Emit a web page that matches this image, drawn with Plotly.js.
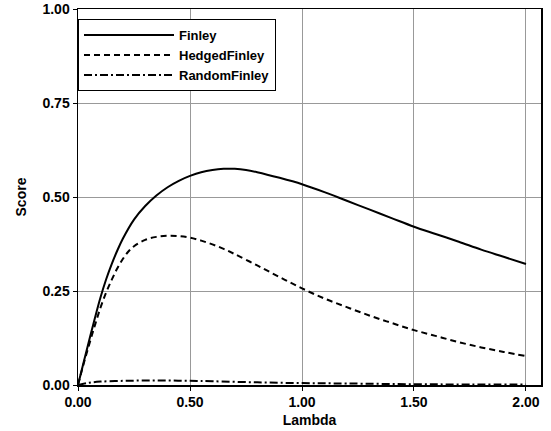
<!DOCTYPE html>
<html><head><meta charset="utf-8">
<script src="https://cdn.plot.ly/plotly-3.0.1.min.js"></script>
<style>body{margin:0;padding:0;background:#fff}</style>
</head><body>
<div id="chart" style="width:551px;height:431px"></div>
<script>
const lambdaF = [0,0.025,0.05,0.075,0.1,0.125,0.15,0.175,0.2,0.25,0.3,0.35,0.4,0.45,0.5,0.55,0.6,0.65,0.7,0.75,0.8,0.9,1.0,1.1,1.2,1.3,1.4,1.5,1.6,1.7,1.8,1.9,2.0];
const finley = [0,0.06,0.119,0.177,0.232,0.28,0.321,0.357,0.389,0.44,0.476,0.504,0.526,0.543,0.556,0.566,0.572,0.575,0.575,0.572,0.566,0.551,0.534,0.513,0.49,0.467,0.444,0.421,0.401,0.381,0.36,0.341,0.322];
const lambdaH = [0,0.025,0.05,0.075,0.1,0.125,0.15,0.175,0.2,0.225,0.25,0.3,0.35,0.4,0.45,0.5,0.55,0.6,0.65,0.7,0.8,0.9,1.0,1.1,1.2,1.3,1.4,1.5,1.6,1.7,1.8,1.9,2.0];
const hedged = [0,0.056,0.108,0.158,0.205,0.245,0.279,0.31,0.335,0.355,0.369,0.386,0.394,0.397,0.396,0.392,0.384,0.374,0.362,0.348,0.318,0.287,0.257,0.23,0.207,0.185,0.165,0.146,0.13,0.114,0.1,0.088,0.077];
const lambdaR = [0,0.05,0.1,0.2,0.3,0.4,0.5,0.6,0.8,1.0,1.2,1.5,1.75,2.0];
const random = [0,0.006,0.009,0.011,0.012,0.012,0.011,0.010,0.007,0.005,0.004,0.002,0.0015,0.001];
const seriesNames = ["Finley","HedgedFinley","RandomFinley"];
const xTicks = [0,0.5,1,1.5,2];
const xTickText = ["0.00","0.50","1.00","1.50","2.00"];
const yTicks = [0,0.25,0.5,0.75,1];
const yTickText = ["0.00","0.25","0.50","0.75","1.00"];

const font = "Liberation Sans, Arial, Helvetica, sans-serif";
const traces = [
  {x: lambdaF, y: finley, name: seriesNames[0], mode: "lines", line: {color: "#000", width: 2, shape: "spline", smoothing: 1}},
  {x: lambdaH, y: hedged, name: seriesNames[1], mode: "lines", line: {color: "#000", width: 2, dash: "6px,4px", shape: "spline", smoothing: 1}},
  {x: lambdaR, y: random, name: seriesNames[2], mode: "lines", line: {color: "#000", width: 2, dash: "8px,3px,2px,3px", shape: "spline", smoothing: 1}}
];
const layout = {
  width: 551, height: 431,
  margin: {l: 78, r: 10, t: 9, b: 46},
  paper_bgcolor: "#fff", plot_bgcolor: "#fff",
  font: {family: font, size: 13, color: "#000"},
  showlegend: true,
  legend: {x: 0, y: 0.973, xanchor: "left", yanchor: "top", bgcolor: "#fff", bordercolor: "#000", borderwidth: 1,
           font: {family: font, size: 13, color: "#000", weight: "bold"}, itemwidth: 90, tracegroupgap: 0},
  xaxis: {range: [0, 2.067], tickvals: xTicks, ticktext: xTickText, showgrid: true, gridcolor: "#999", gridwidth: 1,
          showline: true, linecolor: "#000", linewidth: 1.5, mirror: true, ticks: "outside", ticklen: 4, tickcolor: "#000",
          zeroline: false, tickfont: {family: font, size: 14, color: "#000", weight: "bold"},
          title: {text: "Lambda", font: {family: font, size: 14, weight: "bold"}, standoff: 6}},
  yaxis: {range: [0, 1], tickvals: yTicks, ticktext: yTickText, showgrid: true, gridcolor: "#999", gridwidth: 1,
          showline: true, linecolor: "#000", linewidth: 1.5, mirror: true, ticks: "outside", ticklen: 4, tickcolor: "#000",
          zeroline: false, tickfont: {family: font, size: 14, color: "#000", weight: "bold"},
          title: {text: "Score", font: {family: font, size: 14, weight: "bold"}, standoff: 12}}
};
Plotly.newPlot("chart", traces, layout, {displayModeBar: false, staticPlot: true});
</script>
</body></html>
